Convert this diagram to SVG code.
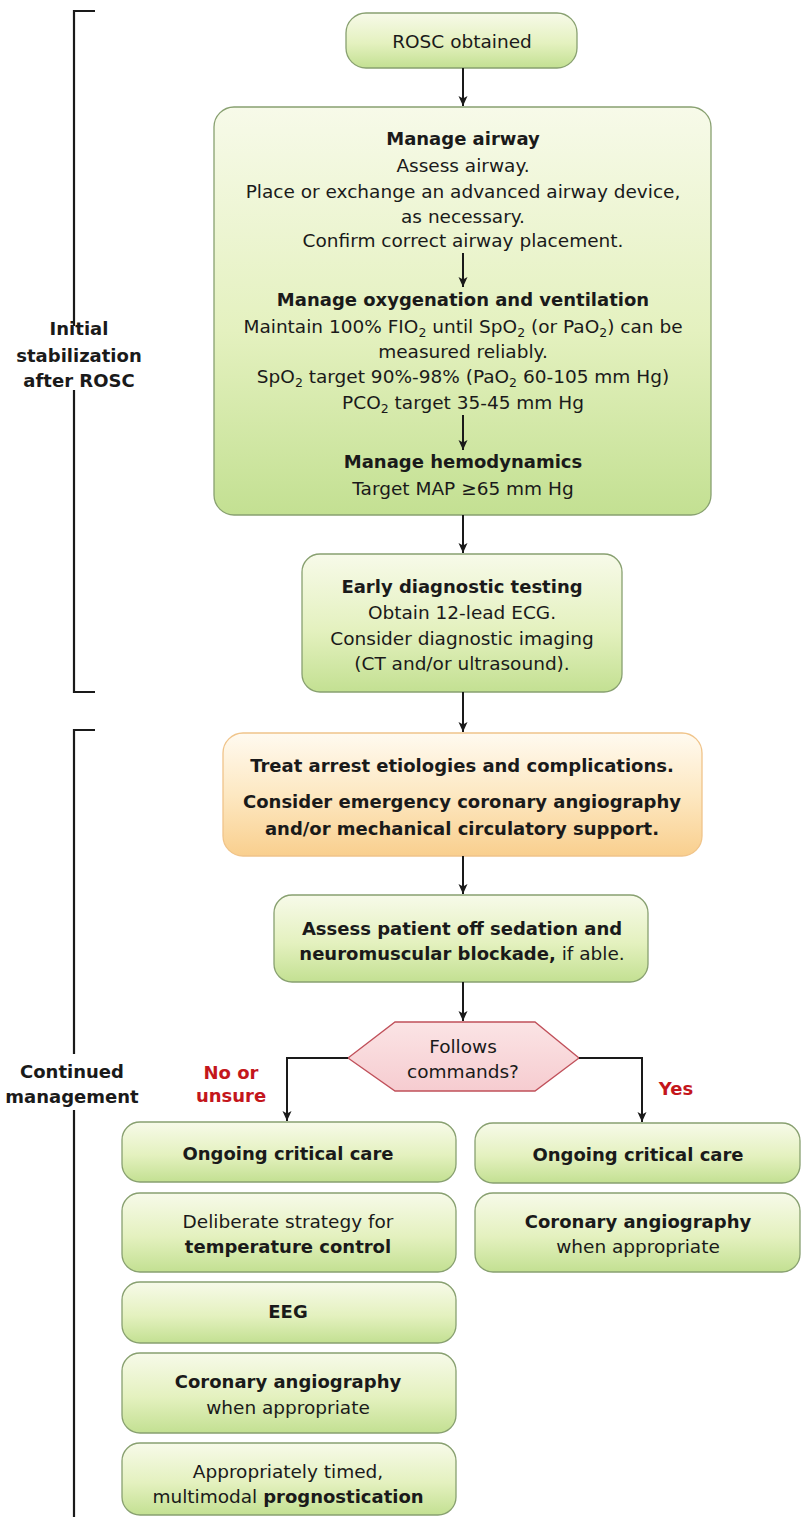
<svg xmlns="http://www.w3.org/2000/svg" width="801" height="1517" viewBox="0 0 801 1517">
<defs>
<linearGradient id="gGreen" x1="0" y1="0" x2="0" y2="1">
<stop offset="0" stop-color="#f7fae9"/>
<stop offset="0.55" stop-color="#e4f1bf"/>
<stop offset="1" stop-color="#c3e092"/>
</linearGradient>
<linearGradient id="gOrange" x1="0" y1="0" x2="0" y2="1">
<stop offset="0" stop-color="#fffaf0"/>
<stop offset="0.5" stop-color="#fde8c2"/>
<stop offset="1" stop-color="#f9cf8e"/>
</linearGradient>
<linearGradient id="gPink" x1="0" y1="0" x2="0" y2="1">
<stop offset="0" stop-color="#fbe4e5"/>
<stop offset="1" stop-color="#f6ccd0"/>
</linearGradient>
<marker id="arr" viewBox="0 0 10 10" refX="10" refY="5" markerWidth="10" markerHeight="10" markerUnits="userSpaceOnUse" orient="auto">
<path d="M0,0.5 L10,5 L0,9.5 L2.5,5 z" fill="#1a1a1a"/>
</marker>
</defs>
<style>
text{font-family:"DejaVu Sans","Liberation Sans",sans-serif;fill:#1a1a1a;text-anchor:middle}
.r{font-size:18.5px}
.b{font-size:18px;font-weight:bold}
.red{font-size:18px;font-weight:bold;fill:#c4161c}
.sub{font-size:12.5px}
.box{fill:url(#gGreen);stroke:#88a070;stroke-width:1.3}
.obox{fill:url(#gOrange);stroke:#f0c48a;stroke-width:1.3}
.hex{fill:url(#gPink);stroke:#c0505a;stroke-width:1.3}
.con{fill:none;stroke:#1a1a1a;stroke-width:2}
.brk{fill:none;stroke:#1a1a1a;stroke-width:2.2}
</style>

<g id="bracket-initial">
<path class="brk" d="M95,11 H74 V326 M74,390 V692 H95"/>
<text class="b" x="79" y="335">Initial</text>
<text class="b" x="79" y="362">stabilization</text>
<text class="b" x="79" y="387">after ROSC</text>
</g>

<g id="bracket-continued">
<path class="brk" d="M95,730 H74 V1054 M74,1110 V1517"/>
<text class="b" x="72" y="1078">Continued</text>
<text class="b" x="72" y="1103">management</text>
</g>

<g id="rosc">
<rect class="box" x="346" y="13" width="231" height="55" rx="20"/>
<text class="r" x="462" y="48">ROSC obtained</text>
</g>

<g id="initial-stabilization">
<rect class="box" x="214" y="107" width="497" height="408" rx="20"/>
<text class="b" x="463" y="145">Manage airway</text>
<text class="r" x="463" y="172">Assess airway.</text>
<text class="r" x="463" y="198">Place or exchange an advanced airway device,</text>
<text class="r" x="463" y="223">as necessary.</text>
<text class="r" x="463" y="247">Confirm correct airway placement.</text>
<text class="b" x="463" y="306">Manage oxygenation and ventilation</text>
<text class="r" x="463" y="333">Maintain 100% FIO<tspan class="sub" dy="4">2</tspan><tspan dy="-4"> until SpO</tspan><tspan class="sub" dy="4">2</tspan><tspan dy="-4"> (or PaO</tspan><tspan class="sub" dy="4">2</tspan><tspan dy="-4">) can be</tspan></text>
<text class="r" x="463" y="358">measured reliably.</text>
<text class="r" x="463" y="383">SpO<tspan class="sub" dy="4">2</tspan><tspan dy="-4"> target 90%-98% (PaO</tspan><tspan class="sub" dy="4">2</tspan><tspan dy="-4"> 60-105 mm Hg)</tspan></text>
<text class="r" x="463" y="409">PCO<tspan class="sub" dy="4">2</tspan><tspan dy="-4"> target 35-45 mm Hg</tspan></text>
<text class="b" x="463" y="468">Manage hemodynamics</text>
<text class="r" x="463" y="495">Target MAP ≥65 mm Hg</text>
</g>

<g id="early-diagnostic">
<rect class="box" x="302" y="554" width="320" height="138" rx="18"/>
<text class="b" x="462" y="593">Early diagnostic testing</text>
<text class="r" x="462" y="619">Obtain 12-lead ECG.</text>
<text class="r" x="462" y="645">Consider diagnostic imaging</text>
<text class="r" x="462" y="670">(CT and/or ultrasound).</text>
</g>

<g id="treat-etiologies">
<rect class="obox" x="223" y="733" width="479" height="123" rx="20"/>
<text class="b" x="462" y="772">Treat arrest etiologies and complications.</text>
<text class="b" x="462" y="808">Consider emergency coronary angiography</text>
<text class="b" x="462" y="835">and/or mechanical circulatory support.</text>
</g>

<g id="assess-patient">
<rect class="box" x="274" y="895" width="374" height="87" rx="18"/>
<text class="b" x="462" y="935">Assess patient off sedation and</text>
<text x="462" y="960"><tspan class="b">neuromuscular blockade,</tspan><tspan class="r"> if able.</tspan></text>
</g>

<g id="follows-commands">
<polygon class="hex" points="348,1058 395,1022 535,1022 579,1058 535,1091 395,1091"/>
<text class="r" x="463" y="1053">Follows</text>
<text class="r" x="463" y="1078">commands?</text>
</g>

<g id="label-no">
<text class="red" x="231" y="1079">No or</text>
<text class="red" x="231" y="1102">unsure</text>
</g>
<g id="label-yes">
<text class="red" x="676" y="1095">Yes</text>
</g>

<g id="no-ongoing-care">
<rect class="box" x="122" y="1122" width="334" height="60" rx="18"/>
<text class="b" x="288" y="1160">Ongoing critical care</text>
</g>
<g id="no-temperature">
<rect class="box" x="122" y="1193" width="334" height="79" rx="18"/>
<text class="r" x="288" y="1228">Deliberate strategy for</text>
<text class="b" x="288" y="1253">temperature control</text>
</g>
<g id="no-eeg">
<rect class="box" x="122" y="1282" width="334" height="61" rx="18"/>
<text class="b" x="288" y="1318">EEG</text>
</g>
<g id="no-coronary">
<rect class="box" x="122" y="1353" width="334" height="80" rx="18"/>
<text class="b" x="288" y="1388">Coronary angiography</text>
<text class="r" x="288" y="1414">when appropriate</text>
</g>
<g id="no-prognostication">
<rect class="box" x="122" y="1443" width="334" height="72" rx="18"/>
<text class="r" x="288" y="1478">Appropriately timed,</text>
<text x="288" y="1503"><tspan class="r">multimodal </tspan><tspan class="b">prognostication</tspan></text>
</g>

<g id="yes-ongoing-care">
<rect class="box" x="475" y="1123" width="325" height="60" rx="18"/>
<text class="b" x="638" y="1161">Ongoing critical care</text>
</g>
<g id="yes-coronary">
<rect class="box" x="475" y="1193" width="325" height="79" rx="18"/>
<text class="b" x="638" y="1228">Coronary angiography</text>
<text class="r" x="638" y="1253">when appropriate</text>
</g>

<g id="connectors">
<line class="con" x1="463" y1="68" x2="463" y2="106" marker-end="url(#arr)"/>
<line class="con" x1="463" y1="253" x2="463" y2="287" marker-end="url(#arr)"/>
<line class="con" x1="463" y1="415" x2="463" y2="450" marker-end="url(#arr)"/>
<line class="con" x1="463" y1="515" x2="463" y2="553" marker-end="url(#arr)"/>
<line class="con" x1="463" y1="692" x2="463" y2="732" marker-end="url(#arr)"/>
<line class="con" x1="463" y1="856" x2="463" y2="894" marker-end="url(#arr)"/>
<line class="con" x1="463" y1="982" x2="463" y2="1021" marker-end="url(#arr)"/>
<path class="con" d="M348,1058 H287 V1121" marker-end="url(#arr)"/>
<path class="con" d="M579,1058 H642 V1122" marker-end="url(#arr)"/>
</g>
</svg>
